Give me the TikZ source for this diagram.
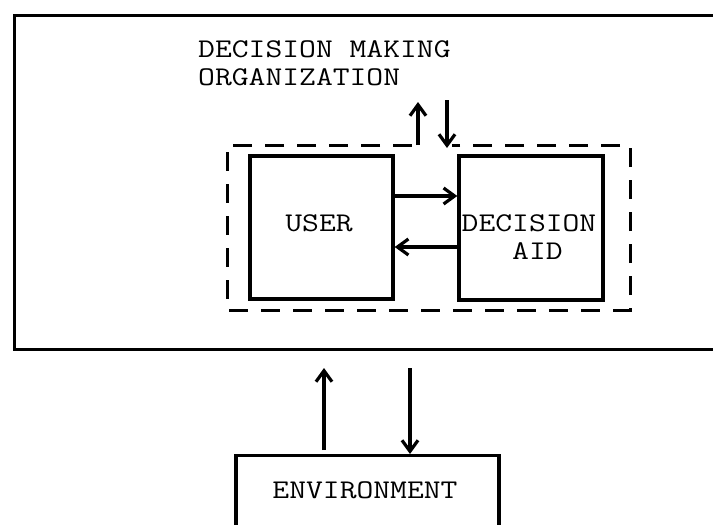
\documentclass[tikz,border=0pt]{standalone}
\usepackage{tikz}
\usetikzlibrary{arrows.meta}
\usetikzlibrary{calc}
\usetikzlibrary{positioning}

\tikzset{
	blk/.style={draw,line width=3.4pt,inner sep=0pt},
	lbl/.style={font=\fontsize{27}{28}\selectfont\ttfamily,inner sep=0pt,xscale=1.21,transform shape},
	flow/.style={-{Straight Barb[length=11pt,width=16pt]},line width=3.2pt},
	grp/.style={line width=3pt,dash pattern=on 19pt off 13pt}
}

\begin{document}
\begin{tikzpicture}[x=1pt,y=-1pt]
	\useasboundingbox (0,0) rectangle (713,525);
	\clip (0,0) rectangle (713,525);
	% organization frame runs off to the right
	\node[blk,line width=3pt,anchor=north west,minimum width=740pt,minimum height=334pt] (org) at (13,14) {};
	\node[lbl,anchor=north west,align=left] (orgname) at (198,40) {DECISION MAKING\\ORGANIZATION};
	% user and aid
	\node[blk,minimum width=143pt,minimum height=143pt] (user) at (321.5,227.5) {};
	\node[lbl] (usertext) at (319,223.5) {USER};
	\node[blk,minimum width=144pt,minimum height=144pt] (aid) at (531,228) {};
	\node[lbl,align=left] (aidtext) at (529,237) {DECISION\\\hphantom{DEC}AID};
	\draw[flow] ([yshift=31.5pt]user.east) -- ([yshift=31.5pt]user.east -| aid.west);
	\draw[flow] ([yshift=-19.5pt]user.east -| aid.west) -- ([yshift=-19.5pt]user.east);
	% dashed group, open at the top between the two arrows
	\coordinate (grpNW) at (227,145);
	\coordinate (grpSE) at (630,310);
	\coordinate (outA) at (418,102);
	\coordinate (inA) at (447,100);
	\draw[grp] ([xshift=-6pt]outA |- grpNW) -| (grpNW |- grpSE) -| (grpSE |- grpNW) -- ([xshift=5pt]inA |- grpNW);
	\draw[flow] (outA |- grpNW) -- (outA);
	\draw[flow] (inA) -- ([yshift=-3pt]inA |- grpNW);
	% environment
	\node[blk,anchor=north,minimum width=263pt,minimum height=90pt] (env) at (367.5,454) {};
	\node[lbl] (envtext) at (365,490) {ENVIRONMENT};
	\draw[flow,shorten >=17pt] ([xshift=-43.5pt,yshift=4pt]env.north) -- ([xshift=-43.5pt]env.north |- org.south);
	\draw[flow,shorten <=17pt] ([xshift=42.5pt]env.north |- org.south) -- ([xshift=42.5pt]env.north);
\end{tikzpicture}
\end{document}
